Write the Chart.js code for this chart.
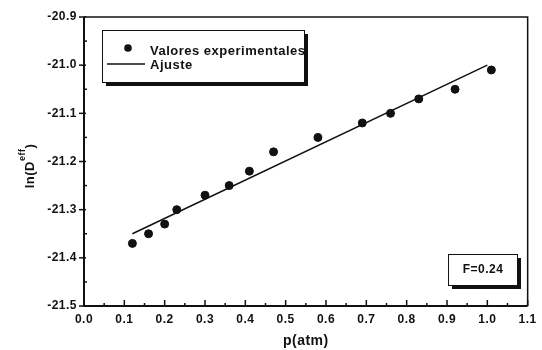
<!DOCTYPE html>
<html>
<head>
<meta charset="utf-8">
<script src="https://cdn.jsdelivr.net/npm/chart.js@4"></script>
<style>
  html, body { margin: 0; padding: 0; background: #fff; }
  #wrap { width: 542px; height: 350px; }
</style>
</head>
<body>
<div id="wrap"><canvas id="plot" width="542" height="350"></canvas></div>
<script>
// ─── Data ────────────────────────────────────────────────
const pressure = [0.12, 0.16, 0.20, 0.23, 0.30, 0.36, 0.41, 0.47, 0.58, 0.69, 0.76, 0.83, 0.92, 1.01];
const lnDeff = [-21.37, -21.35, -21.33, -21.30, -21.27, -21.25, -21.22, -21.18, -21.15, -21.12, -21.10, -21.07, -21.05, -21.01];
const fitP = [0.12, 1.00];
const fitLn = [-21.35, -21.00];
const xTicks = [0.0, 0.1, 0.2, 0.3, 0.4, 0.5, 0.6, 0.7, 0.8, 0.9, 1.0, 1.1];
const yTicks = [-21.5, -21.4, -21.3, -21.2, -21.1, -21.0, -20.9];
const legendLabels = ['Valores experimentales', 'Ajuste'];
const fitNote = 'F=0.24';

const FONT = '"Liberation Sans", Arial, sans-serif';
const INK = '#111';

function pts(xs, ys) {
  return xs.map((x, i) => ({ x: x, y: ys[i] }));
}

// white page + the slightly wide scanned lettering
const whiteBg = {
  id: 'bg',
  beforeDraw(c) {
    c.ctx.fillStyle = '#fff';
    c.ctx.fillRect(0, 0, c.width, c.height);
    c.ctx.letterSpacing = '0.5px';
  }
};

// frame, inward ticks, axis title with superscript
const framePlugin = {
  id: 'frame',
  afterDraw(c) {
    const ctx = c.ctx;
    const a = c.chartArea;
    const xs = c.scales.x, ys = c.scales.y;
    ctx.save();
    ctx.strokeStyle = INK;
    ctx.lineWidth = 1.5;
    ctx.beginPath();
    ctx.moveTo(a.left, a.top); ctx.lineTo(a.right, a.top); ctx.lineTo(a.right, a.bottom);
    ctx.stroke();
    ctx.lineWidth = 2;
    ctx.beginPath();
    ctx.moveTo(a.left, a.top); ctx.lineTo(a.left, a.bottom); ctx.lineTo(a.right, a.bottom);
    ctx.stroke();

    ctx.lineWidth = 1.5;
    for (let i = 0; i <= 22; i++) {
      const px = xs.getPixelForValue(i * 0.05);
      const len = i % 2 === 0 ? 6 : 3;
      ctx.beginPath(); ctx.moveTo(px, a.bottom); ctx.lineTo(px, a.bottom - len); ctx.stroke();
    }
    for (let i = 0; i <= 12; i++) {
      const py = ys.getPixelForValue(-21.5 + i * 0.05);
      ctx.beginPath();
      if (i % 2 === 0) { ctx.moveTo(a.left - 5, py); ctx.lineTo(a.left + 2, py); }
      else { ctx.moveTo(a.left, py); ctx.lineTo(a.left + 3, py); }
      ctx.stroke();
    }

    // y title: ln(D^eff)
    ctx.translate(30, 166);
    ctx.rotate(-Math.PI / 2);
    ctx.fillStyle = INK;
    ctx.textBaseline = 'middle';
    ctx.textAlign = 'left';
    const main1 = 'ln(D', sup = 'eff', main2 = ')';
    ctx.font = 'bold 13px ' + FONT;
    const w1 = ctx.measureText(main1).width;
    const w3 = ctx.measureText(main2).width;
    ctx.font = 'bold 9px ' + FONT;
    const w2 = ctx.measureText(sup).width;
    const x0 = -(w1 + w2 + w3) / 2;
    ctx.font = 'bold 13px ' + FONT;
    ctx.fillText(main1, x0, 0);
    ctx.fillText(main2, x0 + w1 + w2, 0);
    ctx.font = 'bold 9px ' + FONT;
    ctx.fillText(sup, x0 + w1, -7);
    ctx.restore();
  }
};

// boxed legend and note with drop shadows
function shadowBox(ctx, x, y, w, h, off) {
  ctx.fillStyle = INK;
  ctx.fillRect(x + off, y + off, w, h);
  ctx.fillStyle = '#fff';
  ctx.fillRect(x, y, w, h);
  ctx.strokeStyle = INK;
  ctx.lineWidth = 1;
  ctx.strokeRect(x + 0.5, y + 0.5, w, h);
}

const boxPlugin = {
  id: 'boxes',
  afterDraw(c) {
    const ctx = c.ctx;
    ctx.save();
    shadowBox(ctx, 102, 30, 202, 52, 4);
    ctx.fillStyle = INK;
    ctx.beginPath(); ctx.arc(128, 48, 3.8, 0, Math.PI * 2); ctx.fill();
    ctx.strokeStyle = INK; ctx.lineWidth = 1.5;
    ctx.beginPath(); ctx.moveTo(107, 64); ctx.lineTo(145, 64); ctx.stroke();
    ctx.font = 'bold 13px ' + FONT;
    ctx.textBaseline = 'middle';
    ctx.textAlign = 'left';
    ctx.fillText(legendLabels[0], 150, 51);
    ctx.fillText(legendLabels[1], 150, 65);
    // box edge runs over the last letter, as in the scan
    ctx.fillStyle = INK;
    ctx.fillRect(304, 34, 4, 52);

    shadowBox(ctx, 448, 254, 69, 31, 4);
    ctx.fillStyle = INK;
    ctx.font = 'bold 12px ' + FONT;
    ctx.textAlign = 'center';
    ctx.fillText(fitNote, 483, 270);
    ctx.restore();
  }
};

new Chart(document.getElementById('plot').getContext('2d'), {
  type: 'scatter',
  data: {
    datasets: [{
      label: legendLabels[0],
      data: pts(pressure, lnDeff),
      backgroundColor: INK,
      borderColor: INK,
      pointRadius: 4,
      showLine: false,
    }, {
      label: legendLabels[1],
      data: pts(fitP, fitLn),
      borderColor: INK,
      borderWidth: 1.5,
      pointRadius: 0,
      showLine: true,
    }]
  },
  options: {
    responsive: false,
    animation: false,
    layout: { padding: { left: 0, top: 17, right: 4, bottom: 0 } },
    plugins: { legend: { display: false }, tooltip: { enabled: false } },
    scales: {
      x: {
        type: 'linear', min: 0, max: 1.1,
        grid: { display: false, drawTicks: false },
        border: { display: false },
        afterFit: s => { s.height = 44; },
        afterBuildTicks: s => { s.ticks = xTicks.map(v => ({ value: v })); },
        ticks: {
          color: INK, padding: 6, maxRotation: 0, autoSkip: false,
          font: { family: FONT, size: 12, weight: 'bold' },
          callback: v => v.toFixed(1)
        },
        title: {
          display: true, text: 'p(atm)', color: INK, padding: { top: 1, bottom: 0 },
          font: { family: FONT, size: 14, weight: 'bold' }
        }
      },
      y: {
        type: 'linear', min: -21.5, max: -20.9,
        grid: { display: false, drawTicks: false },
        border: { display: false },
        afterFit: s => { s.width = 84; },
        afterBuildTicks: s => { s.ticks = yTicks.map(v => ({ value: v })); },
        ticks: {
          color: INK, padding: 7, autoSkip: false,
          font: { family: FONT, size: 12, weight: 'bold' },
          callback: v => v.toFixed(1)
        }
      }
    }
  },
  plugins: [whiteBg, framePlugin, boxPlugin]
});
</script>
</body>
</html>
